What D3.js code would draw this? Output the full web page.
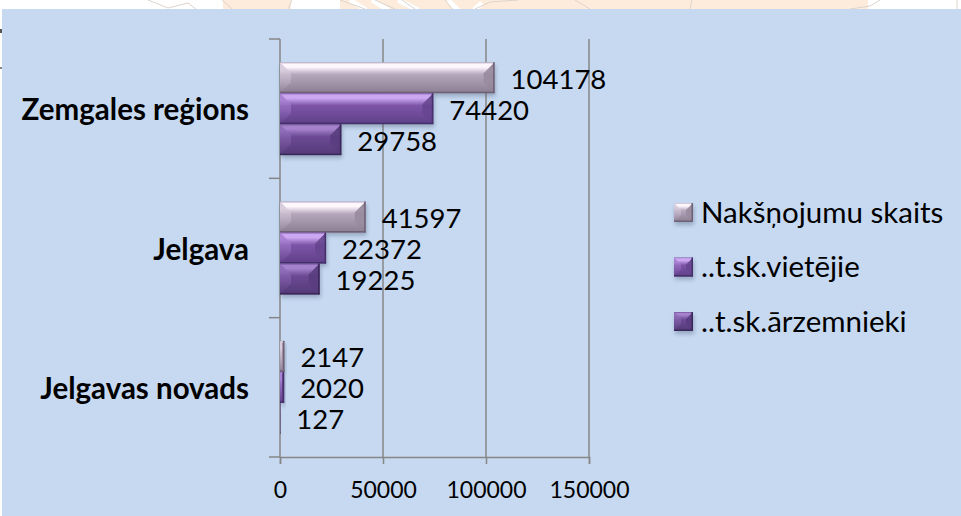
<!DOCTYPE html>
<html>
<head>
<meta charset="utf-8">
<script src="https://cdn.jsdelivr.net/npm/d3@7/dist/d3.min.js"></script>
<style>
html, body { margin: 0; padding: 0; background: #fff; overflow: hidden; }
text { font-family: Lato, "Open Sans", sans-serif; fill: #000; }
</style>
</head>
<body>
<script>
var categories = ["Zemgales reģions", "Jelgava", "Jelgavas novads"];
var seriesNames = ["Nakšņojumu skaits", "..t.sk.vietējie", "..t.sk.ārzemnieki"];
var nakts = [104178, 41597, 2147];
var vietejie = [74420, 22372, 2020];
var arzemnieki = [29758, 19225, 127];
var tickValues = [0, 50000, 100000, 150000];

var seriesValues = [nakts, vietejie, arzemnieki];
var faces = [
	{top: "#fdf6fd", mid: "#b5a6bc", low: "#8b7d92", left: "#d3c7d8", right: "#85778c", edge: "#6e6175"},
	{top: "#cda8f2", mid: "#7d54a8", low: "#5f4088", left: "#a47dcf", right: "#56397d", edge: "#44306a"},
	{top: "#a582cb", mid: "#6c4a94", low: "#533a78", left: "#8c69b4", right: "#4a3270", edge: "#3a2858"}
];

var w = 961;
var h = 516;

var svg = d3.select("body")
			.append("svg")
			.attr("width", w)
			.attr("height", h)
			.style("display", "block");

var defs = svg.append("defs");

var blur = defs.append("filter")
			.attr("id", "soft")
			.attr("x", "-20%").attr("y", "-20%")
			.attr("width", "140%").attr("height", "140%");
blur.append("feGaussianBlur").attr("stdDeviation", 2);

var mapBlur = defs.append("filter").attr("id", "mapsoft");
mapBlur.append("feGaussianBlur").attr("stdDeviation", 0.5);

faces.forEach(function(f, i){
	var g = defs.append("linearGradient")
			.attr("id", "face" + i)
			.attr("x1", 0).attr("y1", 0).attr("x2", 0).attr("y2", 1);
	g.append("stop").attr("offset", "0%").attr("stop-color", f.mid);
	g.append("stop").attr("offset", "6%").attr("stop-color", f.top);
	g.append("stop").attr("offset", "16%").attr("stop-color", f.top);
	g.append("stop").attr("offset", "40%").attr("stop-color", f.mid);
	g.append("stop").attr("offset", "100%").attr("stop-color", f.low);

	["left", "right"].forEach(function(side){
		var s = defs.append("linearGradient")
				.attr("id", side + i)
				.attr("x1", 0).attr("y1", 0).attr("x2", 0).attr("y2", 1);
		s.append("stop").attr("offset", "0%").attr("stop-color", f[side]).attr("stop-opacity", 1);
		s.append("stop").attr("offset", "70%").attr("stop-color", f[side]).attr("stop-opacity", 0.25);
		s.append("stop").attr("offset", "100%").attr("stop-color", f[side]).attr("stop-opacity", 0);
	});
});

// what is left of the map behind the panel, only the top strip shows
var strip = svg.append("g").attr("filter", "url(#mapsoft)");
[[223, 291], [340, 868]].forEach(function(s){
	strip.append("rect")
		.attr("x", s[0]).attr("y", 0)
		.attr("width", s[1] - s[0]).attr("height", 10)
		.attr("fill", "#fdecdc");
});
["M350,0 L366,10", "M372,0 L388,10", "M398,0 L418,10", "M448,0 L458,10", "M474,10 L482,3"].forEach(function(p){
	strip.append("path").attr("d", p).attr("fill", "none").attr("stroke", "#fff").attr("stroke-width", 5);
});
["M148,0 L168,8 L188,3 L196,9", "M222,0 L232,9", "M292,0 L288,9", "M340,0 L365,9", "M375,0 L395,9",
 "M402,0 L415,9", "M445,0 L452,9", "M475,9 L490,2 L518,0", "M575,0 L590,9", "M692,0 L690,9",
 "M850,9 L870,6 L880,0", "M957,0 L957,9"].forEach(function(p){
	strip.append("path").attr("d", p).attr("fill", "none").attr("stroke", "#dcd4cc").attr("stroke-width", 1);
});

svg.append("rect")
	.attr("x", 2).attr("y", 9)
	.attr("width", w - 2).attr("height", h - 9)
	.attr("fill", "#c6d9f1");

// small leftovers at the left edge
svg.append("rect").attr("x", 0).attr("y", 29).attr("width", 2).attr("height", 4).attr("fill", "#555");
svg.append("rect").attr("x", 0).attr("y", 67).attr("width", 2).attr("height", 2).attr("fill", "#888");

var xScale = d3.scaleLinear()
			.domain([0, 150000])
			.range([280, 589]);

var yScale = d3.scaleBand()
			.domain(categories)
			.range([39, 457]);

var inner = d3.scaleBand()
			.domain(seriesNames)
			.range([0, yScale.bandwidth()])
			.paddingInner(0)
			.paddingOuter(0.75);

// gridlines and axes
svg.selectAll(".grid")
	.data(tickValues.slice(1))
	.enter()
	.append("line")
	.attr("class", "grid")
	.attr("x1", function(d){return xScale(d);})
	.attr("x2", function(d){return xScale(d);})
	.attr("y1", 39)
	.attr("y2", 457)
	.attr("stroke", "#868686")
	.attr("stroke-width", 1.5);

var xAxis = d3.axisBottom()
			.scale(xScale)
			.tickValues(tickValues)
			.tickFormat(d3.format("d"))
			.tickSizeOuter(0)
			.tickSize(7)
			.tickPadding(18);

var gx = svg.append("g")
	.attr("transform", "translate(0,457)")
	.call(xAxis);
gx.selectAll("text").attr("font-size", 23).attr("font-family", "Lato");
gx.selectAll("line").attr("stroke", "#868686").attr("stroke-width", 1.5);
gx.select(".domain").attr("stroke", "#868686").attr("stroke-width", 1.5);

var yTicks = [39].concat(categories.map(function(c){return yScale(c) + yScale.bandwidth();}));

svg.selectAll(".ytick")
	.data(yTicks)
	.enter()
	.append("line")
	.attr("class", "ytick")
	.attr("x1", 269).attr("x2", 280)
	.attr("y1", function(d){return d;})
	.attr("y2", function(d){return d;})
	.attr("stroke", "#868686")
	.attr("stroke-width", 1.5);

svg.append("line")
	.attr("x1", 280).attr("x2", 280)
	.attr("y1", 39).attr("y2", 457)
	.attr("stroke", "#868686")
	.attr("stroke-width", 1.5);

svg.selectAll(".cat")
	.data(categories)
	.enter()
	.append("text")
	.attr("class", "cat")
	.attr("x", 249)
	.attr("y", function(d){return yScale(d) + yScale.bandwidth() / 2 + 4;})
	.attr("text-anchor", "end")
	.attr("dominant-baseline", "middle")
	.attr("font-size", 29.5)
	.attr("font-weight", "bold")
	.text(function(d){return d;});

// one bevelled bar, the faces follow from the rect size
function bevel(g, x, y, bw, bh, i, size){
	var f = faces[i];
	var b = Math.min(size, bw / 2, bh / 2);
	g.append("rect")
		.attr("x", x + 1).attr("y", y + 3)
		.attr("width", bw).attr("height", bh)
		.attr("fill", "#3c4a66")
		.attr("opacity", 0.35)
		.attr("filter", "url(#soft)");
	g.append("rect")
		.attr("x", x).attr("y", y)
		.attr("width", bw).attr("height", bh)
		.attr("fill", "url(#face" + i + ")");
	g.append("path")
		.attr("d", d3.line()([[x, y], [x + b, y + b], [x + b, y + bh - b], [x, y + bh]]) + "Z")
		.attr("fill", "url(#left" + i + ")");
	g.append("path")
		.attr("d", d3.line()([[x + bw, y], [x + bw - b, y + b], [x + bw - b, y + bh - b], [x + bw, y + bh]]) + "Z")
		.attr("fill", "url(#right" + i + ")");
	g.append("rect")
		.attr("x", x).attr("y", y + bh - 1.5)
		.attr("width", bw).attr("height", 1.5)
		.attr("fill", f.edge);
	g.append("rect")
		.attr("x", x + bw - Math.min(1.5, bw)).attr("y", y)
		.attr("width", Math.min(1.5, bw)).attr("height", bh)
		.attr("fill", f.edge);
}

var barsG = svg.append("g");

seriesNames.forEach(function(name, i){
	categories.forEach(function(cat, j){
		var v = seriesValues[i][j];
		var y = yScale(cat) + inner(name);
		bevel(barsG, xScale(0), y, xScale(v) - xScale(0), inner.bandwidth(), i, 11);
	});
});

seriesNames.forEach(function(name, i){
	svg.selectAll(".val" + i)
		.data(seriesValues[i])
		.enter()
		.append("text")
		.attr("class", "val" + i)
		.attr("x", function(d){return xScale(d) + 16;})
		.attr("y", function(d, j){return yScale(categories[j]) + inner(name) + inner.bandwidth() / 2 + 4;})
		.attr("dominant-baseline", "middle")
		.attr("font-size", 27.5)
		.text(function(d){return d;});
});

// legend
var legendY = d3.scalePoint()
			.domain(seriesNames)
			.range([212.5, 321.5]);

seriesNames.forEach(function(name, i){
	bevel(svg.append("g"), 674, legendY(name) - 9.5, 19, 19, i, 7);
	svg.append("text")
		.attr("x", 701)
		.attr("y", legendY(name) + 3)
		.attr("dominant-baseline", "middle")
		.attr("font-size", 29.5)
		.text(name);
});
</script>
</body>
</html>
